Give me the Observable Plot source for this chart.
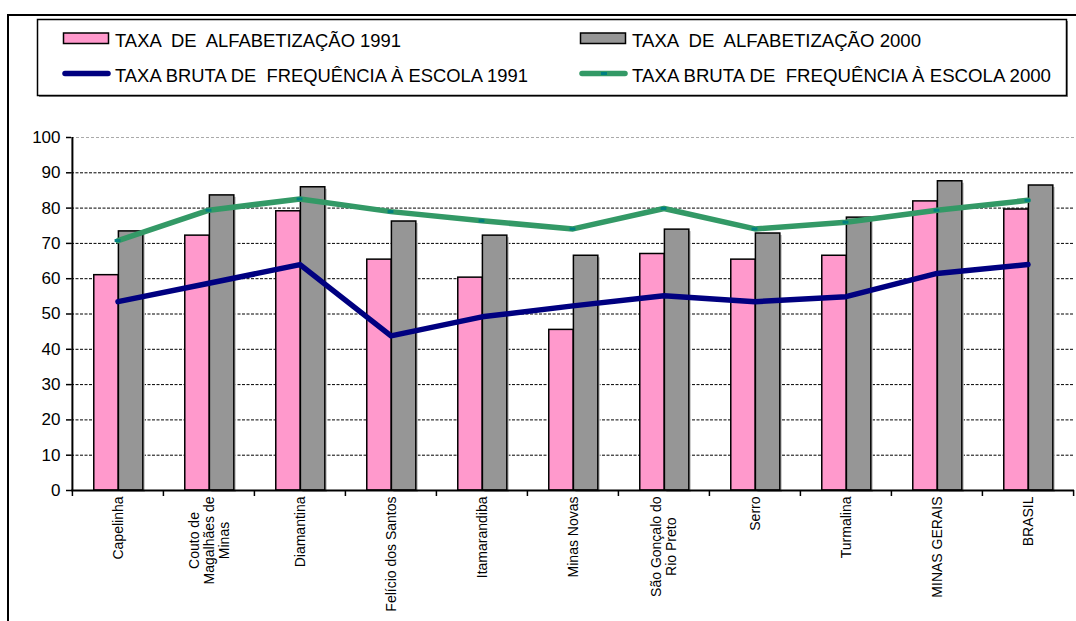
<!DOCTYPE html>
<html>
<head>
<meta charset="utf-8">
<script src="https://cdn.jsdelivr.net/npm/d3@7"></script>
<script src="https://cdn.jsdelivr.net/npm/@observablehq/plot@0.6"></script>
<style>
  html, body { margin: 0; padding: 0; background: #fff; }
  #wrap { position: relative; width: 1076px; height: 621px; overflow: hidden; background: #fff; font-family: "Liberation Sans", Arial, sans-serif; }
  #chart { position: absolute; left: 0; top: 0; }
  #legend { position: absolute; left: 0; top: 0; }
  #frame { position: absolute; left: 7px; top: 14px; width: 1100px; height: 700px; border-left: 2px solid #000; border-top: 2px solid #000; pointer-events: none; }
</style>
</head>
<body>
<div id="wrap">
  <div id="chart"></div>
  <svg id="legend" width="1076" height="110"></svg>
  <div id="frame"></div>
</div>
<script>
// ---- data ----
const categories = ["Capelinha", "Couto de Magalhães de Minas", "Diamantina", "Felício dos Santos", "Itamarandiba", "Minas Novas", "São Gonçalo do Rio Preto", "Serro", "Turmalina", "MINAS GERAIS", "BRASIL"];
const categoryLabels = ["Capelinha", "Couto de\nMagalhães de\nMinas", "Diamantina", "Felício dos Santos", "Itamarandiba", "Minas Novas", "São Gonçalo do\nRio Preto", "Serro", "Turmalina", "MINAS GERAIS", "BRASIL"];
const alfab1991 = [61.0, 72.2, 79.1, 65.4, 60.3, 45.5, 67.0, 65.4, 66.5, 81.9, 79.6];
const alfab2000 = [73.4, 83.6, 85.9, 76.2, 72.2, 66.5, 73.9, 72.8, 77.3, 87.6, 86.4];
const freq1991 = [53.5, 58.7, 64.0, 43.8, 49.2, 52.3, 55.2, 53.5, 54.9, 61.5, 64.0];
const freq2000 = [70.8, 79.4, 82.6, 79.0, 76.4, 74.1, 79.9, 74.1, 76.0, 79.4, 82.2];
const yTicks = [0, 10, 20, 30, 40, 50, 60, 70, 80, 90, 100];
const seriesNames = ["TAXA  DE  ALFABETIZAÇÃO 1991", "TAXA  DE  ALFABETIZAÇÃO 2000", "TAXA BRUTA DE  FREQUÊNCIA À ESCOLA 1991", "TAXA BRUTA DE  FREQUÊNCIA À ESCOLA 2000"];
const colors = { a1991: "#FF99CC", a2000: "#969696", f1991: "#000080", f2000: "#339966", marker: "#008080" };

const rows = categories.map((cat, i) => ({ cat, label: categoryLabels[i], a1991: alfab1991[i], a2000: alfab2000[i], f1991: freq1991[i], f2000: freq2000[i] }));

// ---- layout ----
const W = 1076, H = 621, mL = 71, mR = 2, mT = 137, mB = 131;
const bw = (W - mL - mR) / categories.length;
const barW = bw * 0.27;
const pinkL = bw / 2 - barW + 0.8, pinkR = bw - pinkL - barW;
const grayL = bw / 2 + 0.8, grayR = bw - grayL - barW;
const font = '"Liberation Sans", Arial, sans-serif';

// measure label block widths for top-aligned, centered multi-line labels
const ctx = document.createElement("canvas").getContext("2d");
ctx.font = `14px ${font}`;
const labelMarks = rows.map(r => {
  const maxW = d3.max(r.label.split("\n"), s => ctx.measureText(s).width);
  return Plot.text([r], { x: "cat", text: "label", frameAnchor: "bottom", rotate: -90, textAnchor: "middle", lineAnchor: "middle", dy: 6 + maxW / 2, fontSize: 14, lineHeight: 15 / 14, fill: "#000" });
});

const plot = Plot.plot({
  width: W, height: H,
  marginLeft: mL, marginRight: mR, marginTop: mT, marginBottom: mB,
  style: { fontFamily: font, color: "#000", background: "transparent", overflow: "visible" },
  x: { domain: categories, padding: 0, label: null },
  y: { domain: [0, 100], label: null },
  marks: [
    Plot.ruleY(yTicks.filter(v => v > 0 && v < 100), { stroke: "#000", strokeWidth: 1, strokeDasharray: "3,1.5" }),
    Plot.ruleY([100], { stroke: "#aaa", strokeWidth: 1, strokeDasharray: "3,2" }),
    // bar shadows
    Plot.barY(rows, { x: "cat", y: "a2000", fill: "#c4c4c4", insetLeft: grayL, insetRight: grayR, dx: 2, dy: 2 }),
    Plot.barY(rows, { x: "cat", y: "a1991", fill: colors.a1991, stroke: "#000", strokeWidth: 1.5, insetLeft: pinkL, insetRight: pinkR }),
    Plot.barY(rows, { x: "cat", y: "a2000", fill: colors.a2000, stroke: "#000", strokeWidth: 1.5, insetLeft: grayL, insetRight: grayR }),
    Plot.line(rows, { x: "cat", y: "f1991", stroke: colors.f1991, strokeWidth: 5.5 }),
    Plot.line(rows, { x: "cat", y: "f2000", stroke: colors.f2000, strokeWidth: 5.5 }),
    Plot.tickY(rows, { x: "cat", y: "f2000", stroke: colors.marker, strokeWidth: 3, insetLeft: bw / 2 - 3, insetRight: bw / 2 - 3 }),
    Plot.ruleY([0], { stroke: "#000", strokeWidth: 2 }),
    Plot.ruleX([categories[0]], { dx: -bw / 2, stroke: "#000", strokeWidth: 2 }),
    Plot.axisY({ ticks: yTicks, tickSize: 5, tickPadding: 6, fontSize: 17, tickFormat: d3.format("d"), stroke: "#000", strokeWidth: 1.5, fill: "#000", label: null }),
    Plot.axisX({ ticks: categories, tickSize: 6, dx: -bw / 2, tickFormat: () => "", stroke: "#000", strokeWidth: 1.5, label: null }),
    Plot.axisX({ ticks: [categories[categories.length - 1]], tickSize: 6, dx: bw / 2, tickFormat: () => "", stroke: "#000", strokeWidth: 1.5, label: null }),
    ...labelMarks
  ]
});
document.getElementById("chart").appendChild(plot);

// ---- legend ----
const lg = d3.select("#legend");
lg.append("rect").attr("x", 39).attr("y", 21).attr("width", 1029).attr("height", 76).attr("fill", "#888");
lg.append("rect").attr("x", 37.5).attr("y", 19.5).attr("width", 1029).attr("height", 76).attr("fill", "#fff").attr("stroke", "#000").attr("stroke-width", 1.5);
const items = [
  { kind: "rect", color: colors.a1991, x: 63, y: 38, name: seriesNames[0], tl: 286 },
  { kind: "rect", color: colors.a2000, x: 580, y: 38, name: seriesNames[1], tl: 289 },
  { kind: "line", color: colors.f1991, x: 63, y: 73.5, name: seriesNames[2], tl: 413 },
  { kind: "line", color: colors.f2000, x: 580, y: 73.5, name: seriesNames[3], tl: 419, marker: true }
];
items.forEach(it => {
  if (it.kind === "rect") {
    lg.append("rect").attr("x", it.x + 0.5).attr("y", it.y - 5).attr("width", 45).attr("height", 10.5).attr("fill", it.color).attr("stroke", "#000").attr("stroke-width", 1.5);
  } else {
    lg.append("line").attr("x1", it.x + 2).attr("x2", it.x + 45).attr("y1", it.y).attr("y2", it.y).attr("stroke", it.color).attr("stroke-width", 5.5).attr("stroke-linecap", "round");
    if (it.marker) lg.append("line").attr("x1", it.x + 21).attr("x2", it.x + 27).attr("y1", it.y).attr("y2", it.y).attr("stroke", colors.marker).attr("stroke-width", 3);
  }
  lg.append("text").attr("x", it.x + 52).attr("y", it.y + 8.5).attr("font-family", font).attr("font-size", 17.5).attr("fill", "#000")
    .attr("textLength", it.tl).attr("lengthAdjust", "spacingAndGlyphs").attr("xml:space", "preserve").style("white-space", "pre").text(it.name);
});
</script>
</body>
</html>
